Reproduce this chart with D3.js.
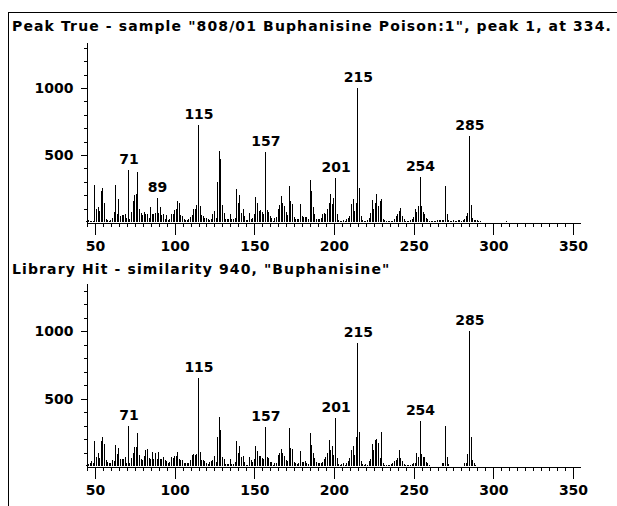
<!DOCTYPE html>
<html>
<head>
<meta charset="utf-8">
<script src="https://cdn.jsdelivr.net/npm/d3@7.9.0/dist/d3.min.js"></script>
<style>
  html, body { margin: 0; padding: 0; background: #fff; }
  svg text { font-family: "DejaVu Sans", Arial, sans-serif; font-weight: bold; fill: #000; }
</style>
</head>
<body>
<svg id="chart" width="617" height="506"></svg>
<script>
// m/z of the first value in each intensity list (one value per unit mass)
const massStart = 45;

const sampleTitle = 'Peak True - sample "808/01 Buphanisine Poison:1", peak 1, at 334.';
const libraryTitle = 'Library Hit - similarity 940, "Buphanisine"';

// sample spectrum, m/z 45..310
const sampleIntensity = [
  8, 12, 6, 10, 6, 275, 100, 115, 85, 235,
  250, 145, 25, 18, 10, 12, 30, 75, 275, 60,
  170, 45, 50, 50, 60, 30, 385, 25, 75, 155,
  200, 210, 370, 100, 65, 55, 75, 60, 60, 30,
  115, 60, 60, 65, 180, 65, 115, 55, 60, 25,
  55, 15, 20, 60, 60, 90, 95, 160, 140, 55,
  45, 20, 15, 15, 20, 35, 55, 95, 95, 125,
  720, 120, 55, 45, 30, 30, 20, 15, 25, 60,
  80, 30, 295, 530, 470, 130, 70, 25, 20, 20,
  60, 20, 20, 30, 245, 140, 200, 70, 95, 45,
  15, 15, 70, 25, 30, 57, 187, 145, 82, 87,
  75, 60, 525, 87, 77, 45, 30, 10, 30, 35,
  100, 127, 195, 145, 120, 75, 55, 270, 157, 132,
  38, 20, 20, 20, 132, 42, 38, 38, 35, 20,
  315, 230, 112, 57, 25, 20, 20, 32, 57, 70,
  57, 95, 145, 212, 135, 180, 330, 60, 15, 10,
  10, 12, 10, 20, 30, 45, 137, 170, 82, 145,
  1000, 250, 45, 12, 10, 10, 12, 30, 70, 162,
  95, 145, 212, 120, 157, 170, 25, 12, 10, 10,
  8, 8, 10, 25, 45, 57, 82, 107, 45, 20,
  8, 8, 10, 12, 20, 35, 95, 77, 120, 335,
  120, 77, 57, 32, 20, 8, 5, 5, 5, 10,
  12, 12, 12, 12, 15, 270, 57, 12, 10, 10,
  12, 10, 10, 12, 12, 10, 12, 25, 45, 70,
  640, 130, 27, 15, 12, 12, 10, 8, 0, 0,
  0, 0, 0, 0, 0, 0, 0, 0, 0, 0,
  0, 0, 0, 10, 0, 0
];

// library spectrum, m/z 45..310
const libraryIntensity = [
  10, 15, 25, 40, 20, 188, 70, 100, 62, 185,
  217, 163, 45, 30, 25, 20, 45, 40, 155, 86,
  130, 50, 50, 50, 70, 25, 300, 25, 62, 94,
  143, 138, 242, 80, 50, 45, 74, 119, 126, 60,
  55, 106, 55, 99, 50, 106, 55, 50, 64, 45,
  35, 20, 30, 64, 60, 74, 74, 106, 50, 45,
  45, 25, 20, 20, 20, 45, 81, 86, 81, 90,
  650, 106, 45, 45, 40, 20, 15, 32, 40, 45,
  74, 30, 217, 360, 267, 64, 50, 15, 15, 15,
  49, 15, 15, 30, 188, 99, 148, 64, 74, 32,
  8, 8, 64, 45, 32, 49, 148, 114, 74, 74,
  57, 50, 287, 64, 57, 32, 32, 8, 20, 25,
  82, 99, 124, 94, 74, 45, 40, 279, 131, 124,
  32, 25, 12, 20, 114, 32, 32, 40, 25, 15,
  242, 153, 99, 57, 32, 20, 20, 20, 32, 49,
  64, 94, 193, 119, 148, 80, 358, 57, 12, 8,
  12, 20, 10, 25, 40, 60, 118, 150, 80, 217,
  915, 254, 40, 15, 10, 12, 10, 35, 50, 165,
  118, 193, 198, 173, 60, 254, 20, 8, 8, 10,
  10, 15, 20, 40, 45, 60, 118, 60, 40, 15,
  10, 8, 8, 10, 15, 20, 25, 99, 64, 333,
  86, 64, 64, 30, 20, 5, 0, 0, 0, 0,
  0, 0, 0, 20, 20, 296, 64, 15, 0, 0,
  0, 0, 0, 0, 0, 0, 0, 20, 25, 89,
  1000, 217, 44, 25, 8, 0, 0, 0, 0, 0,
  0, 0, 0, 0, 0, 0, 0, 0, 0, 0,
  0, 0, 0, 0, 0, 0
];

const samplePeakLabels = [71, 89, 115, 157, 201, 215, 254, 285];
const libraryPeakLabels = [71, 115, 157, 201, 215, 254, 285];

const xMajorTicks = [50, 100, 150, 200, 250, 300, 350];
const yMajorTicks = [500, 1000];

const svg = d3.select('#chart');
const fontFamily = '"DejaVu Sans", Arial, sans-serif';

// frame lines
svg.append('line').attr('x1', 8.5).attr('x2', 8.5).attr('y1', 12).attr('y2', 506)
  .attr('stroke', '#000');
svg.append('line').attr('x1', 8).attr('x2', 617).attr('y1', 12.5).attr('y2', 12.5)
  .attr('stroke', '#000');

const x = d3.scaleLinear().domain([44.4, 354.4]).range([86, 580]);

const panels = [
  { title: sampleTitle, values: sampleIntensity, labels: samplePeakLabels,
    yMax: 1343, top: 42, base: 222, titleY: 31 },
  { title: libraryTitle, values: libraryIntensity, labels: libraryPeakLabels,
    yMax: 1356, top: 283, base: 466, titleY: 274 }
];

let titleSpacing = null;

panels.forEach(p => {
  const g = svg.append('g');
  const y = d3.scaleLinear().domain([0, p.yMax]).range([p.base, p.top]);
  const data = p.values.map((v, i) => ({ mz: massStart + i, v }));

  const t = g.append('text')
    .attr('x', 12).attr('y', p.titleY)
    .attr('font-size', 14)
    .text(p.title);
  // first title runs right across to the frame edge; reuse its spacing for the second
  if (titleSpacing === null) {
    const w = t.node().getComputedTextLength();
    titleSpacing = (600 - w) / p.title.length;
  }
  t.attr('letter-spacing', titleSpacing + 'px');

  // bars
  g.selectAll('line.bar')
    .data(data.filter(d => d.v > 0))
    .join('line')
    .attr('class', 'bar')
    .attr('x1', d => x(d.mz)).attr('x2', d => x(d.mz))
    .attr('y1', y(0)).attr('y2', d => y(d.v))
    .attr('stroke', '#000').attr('stroke-width', 1)
    .attr('shape-rendering', 'crispEdges');

  // x axis: minor then major
  const xMinor = d3.axisBottom(x).tickValues(d3.range(45, 355, 5)).tickSize(4)
    .tickSizeOuter(0).tickFormat('');
  const xMajor = d3.axisBottom(x).tickValues(xMajorTicks).tickSize(12)
    .tickSizeOuter(0).tickPadding(7).tickFormat(d3.format('d'));
  g.append('g').attr('transform', `translate(0,${p.base + 0.5})`).call(xMinor);
  const xa = g.append('g').attr('transform', `translate(0,${p.base + 0.5})`).call(xMajor);
  xa.selectAll('text').attr('font-size', 14)
    .attr('font-family', fontFamily).attr('font-weight', 'bold');

  // y axis
  const yMinor = d3.axisLeft(y).tickValues(d3.range(100, p.yMax, 100)).tickSize(3)
    .tickSizeOuter(0).tickFormat('');
  const yMajor = d3.axisLeft(y).tickValues(yMajorTicks).tickSize(6)
    .tickSizeOuter(0).tickPadding(7).tickFormat(d3.format('d'));
  g.append('g').attr('transform', 'translate(86.5,0)').call(yMinor);
  const ya = g.append('g').attr('transform', 'translate(86.5,0)').call(yMajor);
  ya.selectAll('text').attr('font-size', 14)
    .attr('font-family', fontFamily).attr('font-weight', 'bold');

  g.selectAll('.domain').attr('stroke', '#000').attr('shape-rendering', 'crispEdges');
  g.selectAll('.tick line').attr('stroke', '#000').attr('shape-rendering', 'crispEdges');

  // peak labels
  g.selectAll('text.peak')
    .data(data.filter(d => p.labels.includes(d.mz)))
    .join('text')
    .attr('class', 'peak')
    .attr('x', d => x(d.mz) + 0.5).attr('y', d => y(d.v) - 6)
    .attr('text-anchor', 'middle')
    .attr('font-size', 14)
    .text(d => d.mz);
});
</script>
</body>
</html>
